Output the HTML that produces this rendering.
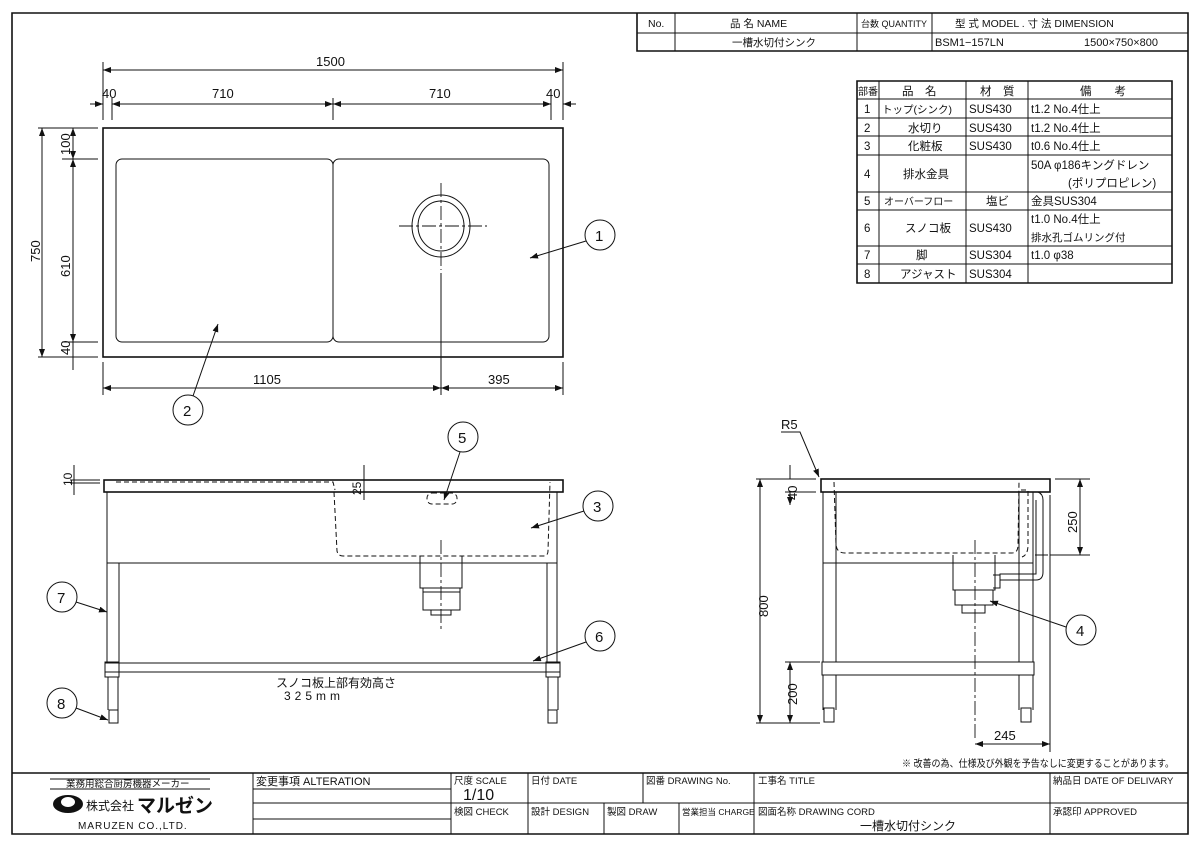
<!DOCTYPE html>
<html><head><meta charset="utf-8"><style>
html,body{margin:0;padding:0;background:#fff}
svg{display:block}
text{font-family:"Liberation Sans","Noto Sans CJK JP",sans-serif;fill:#111}
.l{stroke:#111;stroke-width:1;fill:none}
.t{stroke:#111;stroke-width:1.6;fill:none}
.d{stroke:#111;stroke-width:1;fill:none;stroke-dasharray:5 3}
.c{stroke:#111;stroke-width:0.9;fill:none;stroke-dasharray:14 3 3 3}
</style></head><body>
<svg width="1200" height="848" viewBox="0 0 1200 848" xmlns="http://www.w3.org/2000/svg">
<defs><marker id="a" markerWidth="8" markerHeight="6" refX="8" refY="3" orient="auto-start-reverse" markerUnits="userSpaceOnUse"><path d="M0,0 L8,3 L0,6 z" fill="#111"/></marker></defs>
<path class="t" d="M12,13 H1188 V834 H12 Z"/>
<path class="t" d="M637,13 V51 H1188"/>
<path class="l" d="M637,33 H1188 M675,13 V51 M857,13 V51 M932,13 V51"/>
<g font-size="10.5">
<text x="648" y="27">No.</text>
<text x="730" y="27">品 名  NAME</text>
<text x="861" y="27" font-size="9">台数 QUANTITY</text>
<text x="955" y="27">型 式  MODEL    .   寸 法  DIMENSION</text>
<text x="732" y="46">一槽水切付シンク</text>
<text x="935" y="46" font-size="11">BSM1−157LN</text>
<text x="1084" y="46" font-size="11">1500×750×800</text>
</g>
<path class="t" d="M857,81 H1172 V283 H857 Z"/>
<path class="l" d="M857,99 H1172 M857,118 H1172 M857,136 H1172 M857,155 H1172 M857,192 H1172 M857,210 H1172 M857,246 H1172 M857,264 H1172 M879,81 V283 M966,81 V283 M1028,81 V283"/>
<g font-size="11.5">
<text x="858" y="95" font-size="10">部番</text><text x="902" y="95">品　名</text><text x="980" y="95">材　質</text><text x="1080" y="95">備　　考</text>
<text x="864" y="113">1</text><text x="882" y="113" font-size="10.5">トップ(シンク)</text><text x="969" y="113">SUS430</text><text x="1031" y="113">t1.2 No.4仕上</text>
<text x="864" y="132">2</text><text x="908" y="132">水切り</text><text x="969" y="132">SUS430</text><text x="1031" y="132">t1.2 No.4仕上</text>
<text x="864" y="150">3</text><text x="908" y="150">化粧板</text><text x="969" y="150">SUS430</text><text x="1031" y="150">t0.6 No.4仕上</text>
<text x="864" y="178">4</text><text x="903" y="178">排水金具</text><text x="1031" y="169">50A φ186キングドレン</text><text x="1068" y="187">(ポリプロピレン)</text>
<text x="864" y="205">5</text><text x="884" y="205" font-size="10">オーバーフロー</text><text x="986" y="205">塩ビ</text><text x="1031" y="205">金具SUS304</text>
<text x="864" y="232">6</text><text x="905" y="232">スノコ板</text><text x="969" y="232">SUS430</text><text x="1031" y="223">t1.0 No.4仕上</text><text x="1031" y="241" font-size="10.5">排水孔ゴムリング付</text>
<text x="864" y="259">7</text><text x="916" y="259">脚</text><text x="969" y="259">SUS304</text><text x="1031" y="259">t1.0 φ38</text>
<text x="864" y="278">8</text><text x="900" y="278">アジャスト</text><text x="969" y="278">SUS304</text>
</g>
<!-- TOP VIEW -->
<rect class="t" x="103" y="128" width="460" height="229"/>
<rect class="l" x="116" y="159" width="217" height="183" rx="6"/>
<rect class="l" x="333" y="159" width="216" height="183" rx="6"/>
<ellipse class="l" cx="441" cy="226" rx="29" ry="31"/>
<ellipse class="l" cx="441" cy="226" rx="23" ry="25"/>
<path class="c" d="M399,226 H487 M441,183 V270"/>
<path class="l" d="M441,273 V395"/>
<g font-size="13">
<path class="l" d="M103,62 V120 M563,62 V120 M112,98 V120 M333,98 V120 M551,98 V120"/>
<path class="l" d="M103,70 H563" marker-start="url(#a)" marker-end="url(#a)"/>
<text x="316" y="66">1500</text>
<path class="l" d="M90,104 H103" marker-end="url(#a)"/><path class="l" d="M112,104 H333" marker-start="url(#a)" marker-end="url(#a)"/>
<path class="l" d="M333,104 H551" marker-start="url(#a)" marker-end="url(#a)"/><path class="l" d="M576,104 H563" marker-end="url(#a)"/>
<text x="102" y="98">40</text><text x="212" y="98">710</text><text x="429" y="98">710</text><text x="546" y="98">40</text>
<path class="l" d="M38,128 H98 M62,159 H98 M62,342 H98 M38,357 H98"/>
<path class="l" d="M42,128 V357" marker-start="url(#a)" marker-end="url(#a)"/>
<path class="l" d="M73,128 V159" marker-start="url(#a)" marker-end="url(#a)"/>
<path class="l" d="M73,159 V342" marker-start="url(#a)" marker-end="url(#a)"/>
<path class="l" d="M73,342 V357 M73,357 V370"/>
<text transform="translate(40,250) rotate(-90)" x="-12" y="0">750</text>
<text transform="translate(70,265) rotate(-90)" x="-12" y="0">610</text>
<text transform="translate(70,155) rotate(-90)" x="0" y="0">100</text>
<text transform="translate(70,355) rotate(-90)" x="0" y="0">40</text>
<path class="l" d="M103,362 V395 M563,362 V395"/>
<path class="l" d="M103,388 H441" marker-start="url(#a)" marker-end="url(#a)"/>
<path class="l" d="M441,388 H563" marker-start="url(#a)" marker-end="url(#a)"/>
<text x="253" y="384">1105</text><text x="488" y="384">395</text>
</g>
<g font-size="15">
<circle class="l" cx="600" cy="235" r="15"/><text x="595" y="241">1</text>
<path class="l" d="M586,241 L530,258" marker-end="url(#a)"/>
<circle class="l" cx="188" cy="410" r="15"/><text x="183" y="416">2</text>
<path class="l" d="M193,396 L218,324" marker-end="url(#a)"/>
<circle class="l" cx="463" cy="437" r="15"/><text x="458" y="443">5</text>
<path class="l" d="M460,452 L444,500" marker-end="url(#a)"/>
<circle class="l" cx="598" cy="506" r="15"/><text x="593" y="512">3</text>
<path class="l" d="M584,511 L531,528" marker-end="url(#a)"/>
<circle class="l" cx="62" cy="597" r="15"/><text x="57" y="603">7</text>
<path class="l" d="M76,602 L107,612" marker-end="url(#a)"/>
<circle class="l" cx="600" cy="636" r="15"/><text x="595" y="642">6</text>
<path class="l" d="M586,642 L533,661" marker-end="url(#a)"/>
<circle class="l" cx="62" cy="703" r="15"/><text x="57" y="709">8</text>
<path class="l" d="M76,708 L108,720" marker-end="url(#a)"/>
<circle class="l" cx="1081" cy="630" r="15"/><text x="1076" y="636">4</text>
<path class="l" d="M1066,627 L990,601" marker-end="url(#a)"/>
</g>
<!-- FRONT VIEW -->
<rect class="t" x="104" y="480" width="459" height="12"/>
<path class="l" d="M107,492 V563 H557 V492 M107,563 V663 M119,563 V663 M547,563 V663 M557,563 V663"/>
<path class="d" d="M116,482 H333 L335,490 M334,492 L337,551 Q338,556 343,556 H543 Q548,556 548,551 L550,482"/>
<rect class="d" x="427" y="493" width="30" height="11" rx="5"/>
<path class="l" d="M420,556 V588 H462 V556 M423,588 V610 H460 V588 M431,610 V615 H451 V610 M423,592 H460"/>
<path class="c" d="M441,540 V630"/>
<rect class="l" x="105" y="663" width="455" height="9"/>
<rect class="l" x="105" y="662" width="14" height="15"/><rect class="l" x="546" y="662" width="14" height="15"/>
<path class="l" d="M108,677 V710 M118,677 V710 M548,677 V710 M558,677 V710"/>
<rect class="l" x="109" y="710" width="9" height="13"/><rect class="l" x="548" y="710" width="9" height="13"/>
<g font-size="12">
<path class="l" d="M70,480 H100 M70,483 H100 M74,465 V495"/>
<text transform="translate(72,486) rotate(-90)" x="0" y="0">10</text>
<path class="l" d="M364,465 V500"/>
<text transform="translate(361,495) rotate(-90)" x="0" y="0">25</text>
<text x="276" y="687">スノコ板上部有効高さ</text>
<text x="284" y="700" letter-spacing="4">325mm</text>
</g>
<!-- SIDE VIEW -->
<rect class="t" x="821" y="479" width="229" height="13"/>
<path class="l" d="M823,492 V662 M836,492 V662 M823,563 H1033 M1019,492 V662 M1033,492 V662"/>
<path class="d" d="M834,482 L836,545 Q837,553 845,553 H1012 Q1018,553 1018,545 L1019,482"/>
<path class="d" d="M1021,490 H1028 V545 Q1028,555 1022,557"/>
<path class="l" d="M1031,492 H1038 Q1043,494 1043,500 V572 Q1043,580 1036,580 H1000 V574 H1036 V500 M1035,555 H1048"/>
<path class="l" d="M953,555 V590 H995 V555 M955,590 V605 H993 V590 M962,605 V613 H985 V605 M993,575 H1000 V588 H993"/>
<path class="c" d="M975,540 V740"/>
<rect class="l" x="822" y="662" width="212" height="13"/>
<path class="l" d="M823,675 V710 M836,675 V710 M1019,675 V710 M1033,675 V710"/>
<rect class="l" x="824" y="708" width="10" height="14"/><rect class="l" x="1021" y="708" width="10" height="14"/>
<g font-size="13">
<text x="781" y="429">R5</text>
<path class="l" d="M781,432 H800 L819,477" marker-end="url(#a)"/>
<path class="l" d="M756,479 H816 M785,492 H816 M785,662 H820 M756,723 H820"/>
<path class="l" d="M760,479 V723" marker-start="url(#a)" marker-end="url(#a)"/>
<path class="l" d="M790,465 V479 M790,492 V505" marker-end="url(#a)"/>
<path class="l" d="M790,662 V723" marker-start="url(#a)" marker-end="url(#a)"/>
<text transform="translate(768,617) rotate(-90)" x="0" y="0">800</text>
<text transform="translate(797,705) rotate(-90)" x="0" y="0">200</text>
<text transform="translate(797,500) rotate(-90)" x="0" y="0">40</text>
<path class="l" d="M1055,479 H1090 M1050,555 H1090"/>
<path class="l" d="M1080,479 V555" marker-start="url(#a)" marker-end="url(#a)"/>
<text transform="translate(1077,533) rotate(-90)" x="0" y="0">250</text>
<path class="l" d="M1050,495 V752"/>
<path class="l" d="M975,744 H1050" marker-start="url(#a)" marker-end="url(#a)"/>
<text x="994" y="740">245</text>
</g>
<text x="902" y="767" font-size="10" textLength="272" lengthAdjust="spacingAndGlyphs">※  改善の為、仕様及び外観を予告なしに変更することがあります。</text>
<!-- title block -->
<path class="t" d="M12,773 H1188"/>
<path class="l" d="M253,773 V834 M451,773 V834 M528,773 V834 M754,773 V834 M1050,773 V834"/>
<path class="l" d="M253,789 H451 M253,803 H754 M253,819 H451 M604,803 V834 M679,803 V834 M643,773 V803 M754,803 H1188"/>
<g font-size="9.5">
<text x="66" y="787">業務用総合厨房機器メーカー</text>
<path class="l" d="M50,779 H210 M50,789 H210"/>
<ellipse cx="68" cy="804" rx="15" ry="9" fill="#111"/><ellipse cx="68" cy="802" rx="7" ry="5" fill="#fff"/>
<text x="86" y="810" font-size="12">株式会社</text>
<text x="137" y="812" font-size="19" font-weight="bold">マルゼン</text>
<text x="78" y="829" font-size="10" letter-spacing="1">MARUZEN CO.,LTD.</text>
<text x="256" y="785" font-size="11">変更事項 ALTERATION</text>
<text x="454" y="784">尺度  SCALE</text>
<text x="463" y="800" font-size="16">1/10</text>
<text x="531" y="784">日付  DATE</text>
<text x="646" y="784">図番  DRAWING No.</text>
<text x="758" y="784">工事名  TITLE</text>
<text x="1053" y="784">納品日  DATE OF DELIVARY</text>
<text x="454" y="815">検図  CHECK</text>
<text x="531" y="815">設計  DESIGN</text>
<text x="607" y="815">製図  DRAW</text>
<text x="682" y="815" font-size="8.5">営業担当  CHARGE</text>
<text x="758" y="815">図面名称  DRAWING CORD</text>
<text x="1053" y="815">承認印  APPROVED</text>
<text x="860" y="830" font-size="12">一槽水切付シンク</text>
</g>
</svg>
</body></html>
